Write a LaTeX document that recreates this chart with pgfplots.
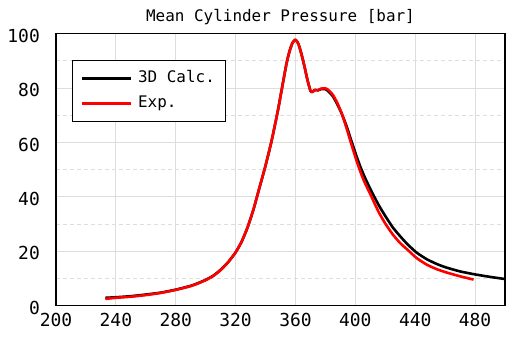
\documentclass[border=0pt]{standalone}
\usepackage{fontspec}
\setmainfont{DejaVu Sans Mono}
\usepackage{pgfplots}
\pgfplotsset{compat=1.18}
\definecolor{gridgray}{HTML}{DDDDDD}
\begin{document}
\begin{tikzpicture}
\useasboundingbox (-56bp,-32.3bp) rectangle (450bp,305.7bp);
\begin{axis}[
  at={(0,0)}, anchor=south west,
  scale only axis, width=449bp, height=272bp,
  xmin=200, xmax=500, ymin=0, ymax=100,
  xtick={200,240,...,480},
  ytick={0,20,...,100},
  minor ytick={10,30,50,70,90},
  major tick length=0pt, minor tick length=0pt,
  xmajorgrids, ymajorgrids, yminorgrids,
  major grid style={gridgray, line width=1bp},
  minor grid style={gridgray, line width=1bp, dash pattern=on 4bp off 3bp},
  axis line style={black, line width=1.2bp},
  /pgf/number format/assume math mode=true,
  ticklabel style={font=\fontsize{18}{18}\selectfont},
  xticklabel style={anchor=north, inner sep=0pt, yshift=-7bp},
  yticklabel style={anchor=east, inner sep=0pt, xshift=-16bp, yshift=-2bp},
  every axis title/.style={at={(0.5,1)}, anchor=center, yshift=16.5bp, inner sep=0pt, font=\fontsize{16}{16}\selectfont},
  title={Mean Cylinder Pressure [bar]},
  legend image code/.code={\draw[#1] (0bp,0bp) -- (49bp,0bp);},
  legend style={at={(0.0356,0.9026)}, anchor=north west, draw=black, line width=1bp,
    font=\fontsize{16}{16}\selectfont, inner xsep=8bp, inner ysep=5.5bp,
    row sep=0bp, column sep=3bp, cells={anchor=west},
    nodes={inner xsep=3bp, inner ysep=5.5bp, text height=11bp, text depth=3bp}},
]
\addplot[black, line width=2.6bp, line join=round, smooth, tension=0.35] coordinates {
(233,2.9) (240,3.1) (250,3.5) (260,4.1) (270,4.8) (280,5.9) (290,7.3) (295,8.3)
(300,9.5) (305,11.0) (310,13.2) (315,16.0) (320,19.6) (324,23.5) (328,28.8)
(332,35.5) (336,43.5) (340,51.5) (344,60.5) (348,71) (351,80) (354,89)
(356,93.5) (358,96.6) (360,97.8) (362,96.2) (364,92.5) (366,88) (368,83)
(370,79) (371,78.5) (373,79.3) (375,79.2) (377,79.6) (380,79.6) (382,78.8)
(385,77) (388,74) (391,70.5) (394,66.2) (397,61.2) (400,56.2) (403,51.6) (406,47.6)
(410,42.9) (413,39.7) (416,36.6) (420,33) (425,28.8) (430,25.5) (435,22.5)
(441,19.5) (448,17) (455,15.2) (461,14) (470,12.6) (480,11.5) (490,10.6) (500,9.8)
};
\addlegendentry{3D Calc.}
\addplot[red, line width=2.6bp, line join=round, smooth, tension=0.35] coordinates {
(233,2.5) (240,2.9) (250,3.3) (260,3.9) (270,4.7) (280,5.8) (290,7.2) (295,8.2)
(300,9.4) (305,10.9) (310,13.1) (315,16.0) (320,19.6) (324,23.5) (328,28.8)
(332,35.5) (336,43.5) (340,51.5) (344,60.5) (348,71) (351,80) (354,89)
(356,93.5) (358,96.6) (360,97.8) (362,96.2) (364,92.5) (366,88) (368,83)
(370,79) (371,78.5) (373,79.3) (375,79.2) (377,79.8) (380,79.9) (382,79.3)
(385,77.5) (388,74.5) (391,70.5) (394,65.5) (397,60) (400,54.7) (403,49.8)
(406,45.6) (410,41) (413,37.4) (416,34) (420,30.2) (425,26.2) (430,23)
(435,20.5) (441,17.5) (448,15) (455,13.3) (461,12.2) (470,10.8) (479,9.6)
};
\addlegendentry{Exp.}
\end{axis}
\end{tikzpicture}
\end{document}
